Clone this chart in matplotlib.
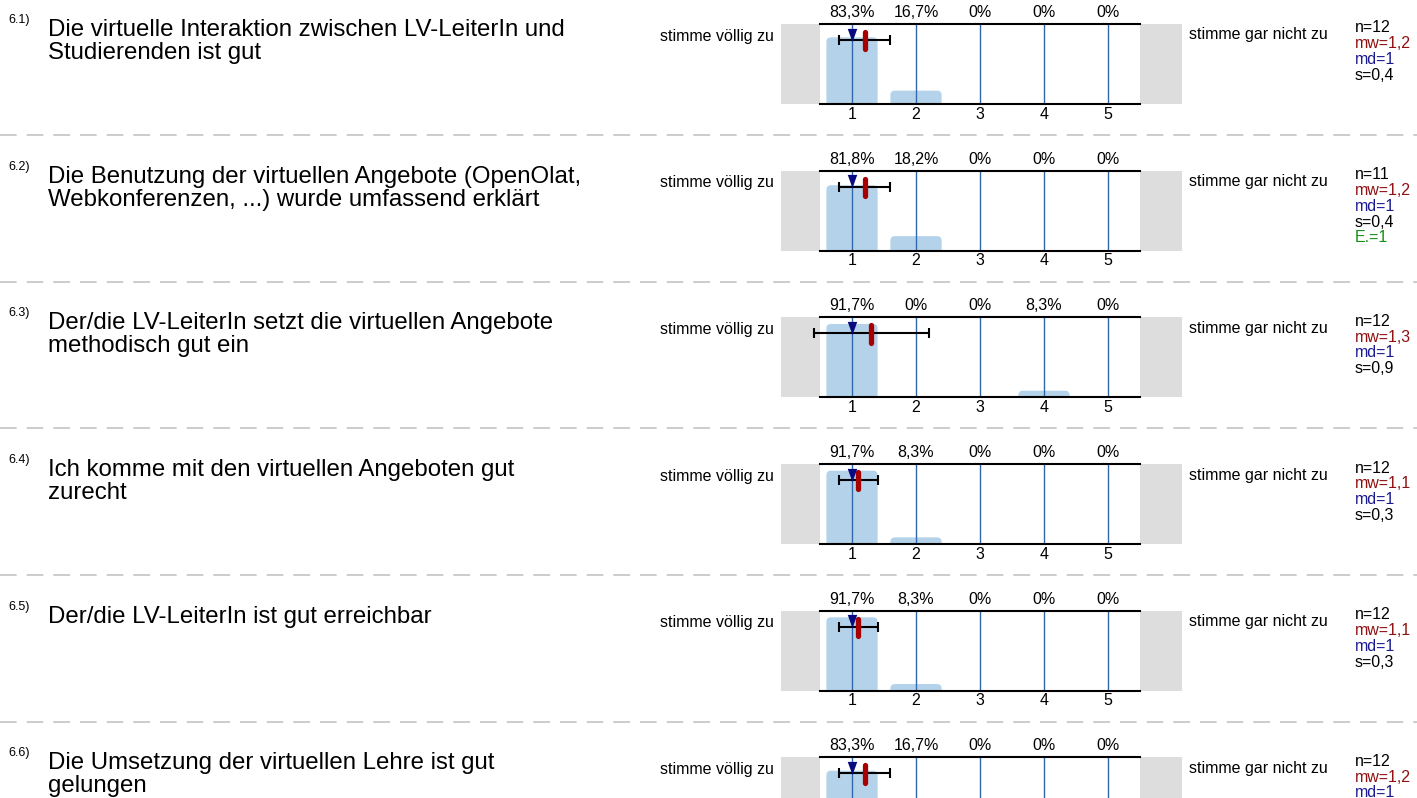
import matplotlib
matplotlib.use("Agg")
import matplotlib.pyplot as plt
from matplotlib.lines import Line2D
from matplotlib.patches import Rectangle, FancyBboxPatch

plt.rcParams['font.family'] = ['Liberation Sans', 'DejaVu Sans']

# ---------------- data ----------------
numbers = ["6.1)", "6.2)", "6.3)", "6.4)", "6.5)", "6.6)"]
questions = [
    "Die virtuelle Interaktion zwischen LV-LeiterIn und\nStudierenden ist gut",
    "Die Benutzung der virtuellen Angebote (OpenOlat,\nWebkonferenzen, ...) wurde umfassend erklärt",
    "Der/die LV-LeiterIn setzt die virtuellen Angebote\nmethodisch gut ein",
    "Ich komme mit den virtuellen Angeboten gut\nzurecht",
    "Der/die LV-LeiterIn ist gut erreichbar",
    "Die Umsetzung der virtuellen Lehre ist gut\ngelungen",
]
categories = [1, 2, 3, 4, 5]
pct_q1 = [83.3, 16.7, 0, 0, 0]
pct_q2 = [81.8, 18.2, 0, 0, 0]
pct_q3 = [91.7, 0, 0, 8.3, 0]
pct_q4 = [91.7, 8.3, 0, 0, 0]
pct_q5 = [91.7, 8.3, 0, 0, 0]
pct_q6 = [83.3, 16.7, 0, 0, 0]
percentages = [pct_q1, pct_q2, pct_q3, pct_q4, pct_q5, pct_q6]
n_vals = [12, 11, 12, 12, 12, 12]
mw_vals = [1.2, 1.2, 1.3, 1.1, 1.1, 1.2]
md_vals = [1, 1, 1, 1, 1, 1]
s_vals = [0.4, 0.4, 0.9, 0.3, 0.3, 0.4]
e_vals = [None, 1, None, None, None, None]
left_label = "stimme völlig zu"
right_label = "stimme gar nicht zu"

# ---------------- layout ----------------
W, H = 1417, 798
fig = plt.figure(figsize=(W / 100, H / 100), dpi=100)
fig.patch.set_facecolor("white")

def fx(x):
    return x / W

def fy(y):
    return 1 - y / H

ROW_H = 146.67
TOP0 = 24
AX_L, AX_R = 820, 1140
AX_HPX = 80

BAR_C = "#b4d3ea"
LINE_C = "#2f68ad"
GRAY_C = "#dddddd"
MEAN_C = "#a80000"
MED_C = "#0a0a80"
MW_TXT = "#8f1010"
MD_TXT = "#1a1a90"
E_TXT = "#169016"

def fmt(v):
    s = ("%.1f" % v).replace(".", ",")
    if s.endswith(",0"):
        s = s[:-2]
    return s

# pixel scale of data units (for rounded bar corners)
px_per_x = (AX_R - AX_L) / 5.0
px_per_y = AX_HPX / 100.0
RADIUS_PX = 4.5

for i in range(len(questions)):
    top = TOP0 + i * ROW_H
    bot = top + AX_HPX
    ax = fig.add_axes([fx(AX_L), fy(bot), (AX_R - AX_L) / W, AX_HPX / H])
    ax.set_xlim(0.5, 5.5)
    ax.set_ylim(0, 100)
    ax.patch.set_alpha(0)
    for sp in ("left", "right"):
        ax.spines[sp].set_visible(False)
    for sp in ("top", "bottom"):
        ax.spines[sp].set_linewidth(1.5)
        ax.spines[sp].set_color("black")
        ax.spines[sp].set_zorder(7)
    ax.set_yticks([])
    ax.set_xticks(categories)
    if bot + 20 < H:
        ax.set_xticklabels([str(c) for c in categories], fontsize=11.5)
    else:
        ax.set_xticklabels([])  # below the visible canvas
    ax.tick_params(axis="x", length=0, pad=2)

    # gray side boxes
    ax.add_patch(Rectangle((-0.11, 0), 0.61, 100, transform=ax.transData,
                           facecolor=GRAY_C, edgecolor="none", clip_on=False, zorder=0))
    ax.add_patch(Rectangle((5.5, 0), 0.66, 100, transform=ax.transData,
                           facecolor=GRAY_C, edgecolor="none", clip_on=False, zorder=0))

    bars = ax.bar(categories, percentages[i], width=0.8, color=BAR_C, zorder=1)
    for rect in bars:
        h = rect.get_height()
        if h > 0:
            fb = FancyBboxPatch((rect.get_x(), -10), rect.get_width(), h + 10,
                                boxstyle="round,pad=0,rounding_size=%f" % (RADIUS_PX / px_per_x),
                                mutation_aspect=px_per_x / px_per_y,
                                facecolor=BAR_C, edgecolor="none", zorder=1)
            ax.add_patch(fb)
        rect.set_visible(False)
    ax.vlines(categories, 0, 100, color=LINE_C, lw=1.0, zorder=2)

    for c, p in zip(categories, percentages[i]):
        ax.annotate(fmt(p) + "%", xy=(c, 1.0), xycoords=("data", "axes fraction"),
                    xytext=(0, 3), textcoords="offset points",
                    ha="center", va="bottom", fontsize=11.5)

    eb = ax.errorbar([mw_vals[i]], [80], xerr=[s_vals[i]], color="black",
                     lw=1.5, capsize=3.6, capthick=1.5, zorder=4, fmt="none")
    for art in eb.get_children():
        art.set_clip_on(False)
    ax.plot([mw_vals[i], mw_vals[i]], [90, 68.5], color=MEAN_C, lw=3.8,
            solid_capstyle="round", zorder=5, clip_on=False)
    ax.plot([md_vals[i]], [86.5], marker=[(-0.72, 1), (0.72, 1), (0, -1)],
            markersize=9.5, color=MED_C, markeredgewidth=0, zorder=6, clip_on=False)

    # side labels
    fig.text(fx(774), fy(top + 12), left_label, ha="right", va="center", fontsize=11.5)
    fig.text(fx(1189), fy(top + 11), right_label, ha="left", va="center", fontsize=11.5)

    # question
    fig.text(fx(8), fy(top - 4), numbers[i], ha="left", va="center", fontsize=9)
    fig.text(fx(48), fy(top - 5), questions[i], ha="left", va="top",
             fontsize=17.25, linespacing=1.05)

    # stats
    stats = [("n=%d" % n_vals[i], "black"), ("mw=" + fmt(mw_vals[i]), MW_TXT),
             ("md=" + fmt(md_vals[i]), MD_TXT), ("s=" + fmt(s_vals[i]), "black")]
    if e_vals[i] is not None:
        stats.append(("E.=%d" % e_vals[i], E_TXT))
    for k, (t, col) in enumerate(stats):
        fig.text(fx(1355), fy(top + 4 + k * 15.8), t, ha="left", va="center",
                 fontsize=11.5, color=col)

    # dashed separator
    if i < len(questions) - 1:
        ysep = 135 + i * ROW_H
        fig.add_artist(Line2D([0, 1], [fy(ysep), fy(ysep)], transform=fig.transFigure,
                              color="#c4c4c4", lw=1.2, dashes=(10, 6)))

fig.savefig("out.png", dpi=100)
